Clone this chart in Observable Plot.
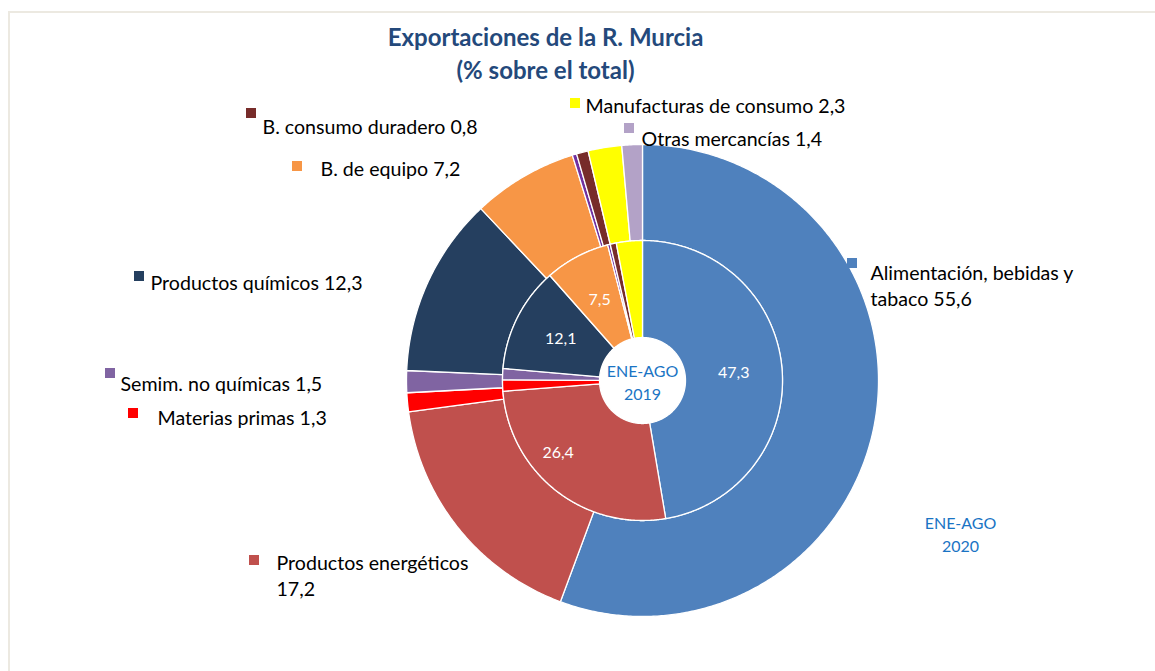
<!DOCTYPE html>
<html><head><meta charset="utf-8">
<script src="https://cdn.jsdelivr.net/npm/d3@7"></script>
<script src="https://cdn.jsdelivr.net/npm/@observablehq/plot@0.6"></script>
<style>
html,body{margin:0;padding:0;background:#fff;overflow:hidden;}
#wrap{position:relative;width:1155px;height:671px;overflow:hidden;background:#fff;}
#frame{position:absolute;left:8px;top:11px;width:1250px;height:750px;border:2px solid #ece9e1;box-sizing:border-box;}
#chart{position:absolute;left:0;top:0;}
</style></head><body>
<div id="wrap"><div id="frame"></div><div id="chart"></div></div>
<script>
// ---- data ----
const categories = ["Alimentación, bebidas y tabaco","Productos energéticos","Materias primas","Semim. no químicas","Productos químicos","B. de equipo","Sector automóvil","B. consumo duradero","Manufacturas de consumo","Otras mercancías"];
const values2020 = [55.6, 17.2, 1.3, 1.5, 12.3, 7.2, 0.3, 0.8, 2.3, 1.4];
const values2019 = [47.3, 26.4, 1.3, 1.3, 12.1, 7.5, 0.3, 0.7, 3.0, 0];
const colors = ["#4f81bd","#c0504d","#ff0000","#8064a2","#253f5f","#f79646","#7030a0","#772c2a","#ffff00","#b3a2c7"];
const legendNames = ["Alimentación, bebidas y\ntabaco","Productos energéticos","Materias primas","Semim. no químicas","Productos químicos","B. de equipo",null,"B. consumo duradero","Manufacturas de consumo","Otras mercancías"];
const legendSep = [" ","\n"," "," "," "," ",null," "," "," "];
const periodLabels = ["ENE-AGO\n2020","ENE-AGO\n2019"];
const titleLines = ["Exportaciones de la R. Murcia","(% sobre el total)"];

// ---- layout (pixels) ----
const W = 1155, H = 671;
const CX = 642, CY = 380;
const R_OUT = 236, R_MID = 140, R_IN = 43;
const legendLayout = [
  {mx:852, my:263, tx:870, ty:284},
  {mx:254, my:560, tx:276, ty:574},
  {mx:133, my:413, tx:157, ty:416},
  {mx:110, my:373, tx:120, ty:382},
  {mx:139, my:276, tx:150, ty:281},
  {mx:297, my:166, tx:320, ty:167},
  null,
  {mx:251, my:113, tx:262, ty:125},
  {mx:575, my:103, tx:585, ty:104},
  {mx:629, my:128, tx:641, ty:137}
];
const innerLabelShift = {1: [-28, 0]};
const periodPos = [{x:960, y:533}, {x:CX, y:381}];
const titlePos = [{x:545, y:38}, {x:545, y:71}];

const fmt = v => d3.format(".1f")(v).replace(".", ",");

function ring(values, r0, r1, tag) {
  const total = d3.sum(values);
  let acc = 0;
  const rows = [];
  const mids = [];
  values.forEach((v, i) => {
    if (v <= 0) return;
    const a0 = acc / total * 2 * Math.PI;
    const a1 = (acc + v) / total * 2 * Math.PI;
    acc += v;
    mids.push({i, v, a: (a0 + a1) / 2});
    const n = Math.max(2, Math.ceil((a1 - a0) / (Math.PI / 360)));
    for (let k = 0; k <= n; k++) {
      const a = a0 + (a1 - a0) * k / n;
      rows.push({id: tag + i, x: CX + r1 * Math.sin(a), y: CY - r1 * Math.cos(a), color: colors[i]});
    }
    for (let k = n; k >= 0; k--) {
      const a = a0 + (a1 - a0) * k / n;
      rows.push({id: tag + i, x: CX + r0 * Math.sin(a), y: CY - r0 * Math.cos(a), color: colors[i]});
    }
  });
  return {rows, mids};
}

const outer = ring(values2020, R_MID, R_OUT, "o");
const inner = ring(values2019, R_IN, R_MID, "i");

const rLab = (R_IN + R_MID) / 2;
const innerLabels = inner.mids.filter(d => d.v >= 5).map(d => {
  const s = innerLabelShift[d.i] || [0, 0];
  return {x: CX + rLab * Math.sin(d.a) + s[0], y: CY - rLab * Math.cos(d.a) + s[1], text: fmt(d.v)};
});

const legendRows = categories.map((c, i) => legendLayout[i] ? {
  ...legendLayout[i], color: colors[i], text: legendNames[i] + legendSep[i] + fmt(values2020[i])
} : null).filter(Boolean);

const periodRows = periodLabels.map((t, i) => ({...periodPos[i], text: t}));
const titleRows = titleLines.map((t, i) => ({...titlePos[i], text: t}));

const chart = Plot.plot({
  width: W, height: H, margin: 0,
  style: {fontFamily: "Lato, 'Open Sans', sans-serif", background: "transparent"},
  x: {domain: [0, W], range: [0, W], axis: null},
  y: {domain: [0, H], range: [0, H], axis: null},
  color: {type: "identity"},
  marks: [
    Plot.line(outer.rows, {x: "x", y: "y", z: "id", fill: "color", stroke: "white", strokeWidth: 1.3, curve: "linear-closed"}),
    Plot.line(inner.rows, {x: "x", y: "y", z: "id", fill: "color", stroke: "white", strokeWidth: 1.3, curve: "linear-closed"}),
    Plot.text(innerLabels, {x: "x", y: "y", text: "text", fill: "white", fontSize: 16}),
    Plot.text(periodRows, {x: "x", y: "y", text: "text", fill: "#1a74c4", fontSize: 16, lineHeight: 1.4}),
    Plot.rect(legendRows, {x1: d => d.mx - 5, x2: d => d.mx + 5, y1: d => d.my - 5, y2: d => d.my + 5, fill: "color"}),
    Plot.text(legendRows, {x: "tx", y: "ty", text: "text", textAnchor: "start", fill: "#000", fontSize: 19.6, lineHeight: 1.33, lineAnchor: "middle"}),
    Plot.text(titleRows, {x: "x", y: "y", text: "text", fill: "#24497b", fontSize: 24, fontWeight: "bold"})
  ]
});
document.getElementById("chart").appendChild(chart);
</script>
</body></html>
